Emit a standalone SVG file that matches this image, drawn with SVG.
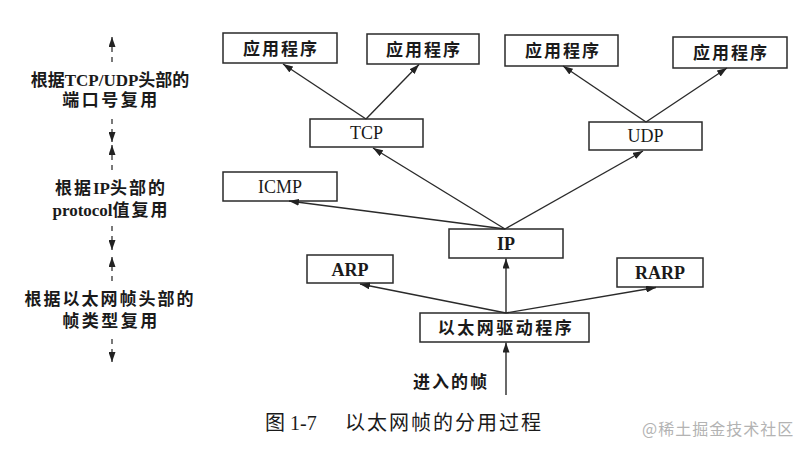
<svg xmlns="http://www.w3.org/2000/svg" width="809" height="453" viewBox="0 0 809 453">
<style>
.box rect{fill:#fff;stroke:#2a2a2a;stroke-width:1.5}
text{font-family:"Liberation Serif","Noto Sans CJK SC",serif;fill:#1a1a1a}
.cn{font-size:17px;font-weight:bold;letter-spacing:2px;text-anchor:middle}
.la{font-size:18px;text-anchor:middle}
.lb{font-size:18px;font-weight:bold;text-anchor:middle}
.side{font-size:17px;font-weight:bold;text-anchor:middle}
.lat{letter-spacing:0}
.conn line{stroke:#2a2a2a;stroke-width:1.4}
.dash line{stroke:#333;stroke-width:1.3;stroke-dasharray:5 5}
</style>
<defs>
<marker id="ah" markerUnits="userSpaceOnUse" markerWidth="10" markerHeight="7" refX="10" refY="3.5" orient="auto">
<path d="M0,0 L10,3.5 L0,7 z" fill="#222"/>
</marker>
</defs>

<g id="app1" class="box"><rect x="223" y="33" width="114" height="30"/><text class="cn" x="281" y="55">应用程序</text></g>
<g id="app2" class="box"><rect x="367" y="34" width="112" height="30"/><text class="cn" x="424" y="56">应用程序</text></g>
<g id="app3" class="box"><rect x="505" y="35" width="113" height="31"/><text class="cn" x="563" y="57">应用程序</text></g>
<g id="app4" class="box"><rect x="673" y="37" width="114" height="31"/><text class="cn" x="731" y="59">应用程序</text></g>
<g id="tcp" class="box"><rect x="310" y="119" width="113" height="28"/><text class="la" x="366.5" y="139">TCP</text></g>
<g id="udp" class="box"><rect x="589" y="122" width="113" height="28"/><text class="la" x="645.5" y="142">UDP</text></g>
<g id="icmp" class="box"><rect x="223" y="172" width="114" height="29"/><text class="la" x="280" y="193">ICMP</text></g>
<g id="ip" class="box"><rect x="449" y="229" width="114" height="29"/><text class="lb" x="506" y="250">IP</text></g>
<g id="arp" class="box"><rect x="307" y="255" width="86" height="28"/><text class="lb" x="350" y="275.5">ARP</text></g>
<g id="rarp" class="box"><rect x="617" y="258" width="86" height="29"/><text class="lb" x="660" y="279">RARP</text></g>
<g id="driver" class="box"><rect x="420" y="313" width="169" height="29"/><text class="cn" x="506" y="334" style="letter-spacing:2.5px">以太网驱动程序</text></g>

<g id="connectors" class="conn">
<line x1="366" y1="119" x2="283" y2="64" marker-end="url(#ah)"/>
<line x1="366" y1="119" x2="419" y2="64.5" marker-end="url(#ah)"/>
<line x1="646" y1="122" x2="563" y2="66" marker-end="url(#ah)"/>
<line x1="646" y1="122" x2="727" y2="68" marker-end="url(#ah)"/>
<line x1="505" y1="229" x2="373" y2="148" marker-end="url(#ah)"/>
<line x1="505" y1="229" x2="643" y2="151" marker-end="url(#ah)"/>
<line x1="505" y1="229" x2="289" y2="201" marker-end="url(#ah)"/>
<line x1="506" y1="313" x2="506" y2="258.5" marker-end="url(#ah)"/>
<line x1="506" y1="313" x2="360" y2="284" marker-end="url(#ah)"/>
<line x1="506" y1="313" x2="656" y2="287.5" marker-end="url(#ah)"/>
<line x1="506" y1="395" x2="506" y2="342.5" marker-end="url(#ah)"/>
</g>

<g id="dashed-arrows" class="dash">
<line x1="112" y1="62" x2="112" y2="37" marker-end="url(#ah)"/>
<line x1="112" y1="119" x2="112" y2="142" marker-end="url(#ah)"/>
<line x1="112" y1="170" x2="112" y2="145" marker-end="url(#ah)"/>
<line x1="112" y1="226" x2="112" y2="250" marker-end="url(#ah)"/>
<line x1="112" y1="281" x2="112" y2="257" marker-end="url(#ah)"/>
<line x1="112" y1="339" x2="112" y2="362" marker-end="url(#ah)"/>
</g>

<g id="side-labels">
<text class="side" x="110" y="86">根据TCP/UDP头部的</text>
<text class="side" x="111" y="106" style="letter-spacing:2.5px">端口号复用</text>
<text class="side" x="111" y="194" style="letter-spacing:2px">根据<tspan class="lat">IP</tspan>头部的</text>
<text class="side" x="111" y="216" style="letter-spacing:2px"><tspan class="lat">protocol</tspan>值复用</text>
<text class="side" x="110" y="305" style="letter-spacing:2px">根据以太网帧头部的</text>
<text class="side" x="111" y="327" style="letter-spacing:2.5px">帧类型复用</text>
</g>

<text id="incoming" class="cn" x="451" y="388">进入的帧</text>

<g id="caption">
<text x="265" y="430" style="font-size:20px">图 1-7</text>
<text x="345" y="430" style="font-size:20px;letter-spacing:2px">以太网帧的分用过程</text>
</g>
<text id="watermark" x="642" y="435" style="font-family:'Noto Sans CJK SC',sans-serif;font-size:16px;fill:#b3b3b3;letter-spacing:1px">@稀土掘金技术社区</text>
</svg>
